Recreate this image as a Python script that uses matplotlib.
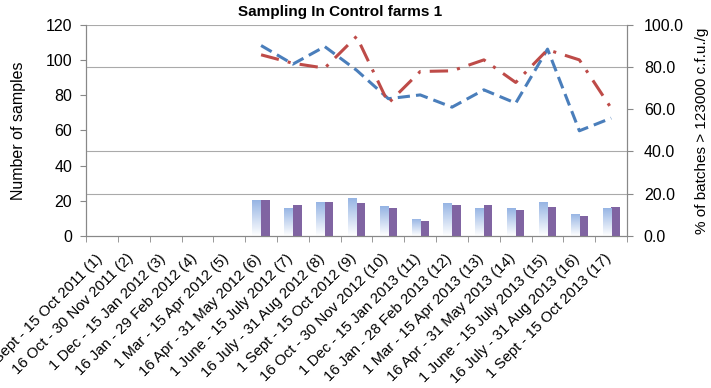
import matplotlib
matplotlib.use("Agg")
import matplotlib.pyplot as plt
import matplotlib.transforms as mtransforms
import numpy as np
from matplotlib.colors import LinearSegmentedColormap

categories = [
    "1 Sept - 15 Oct 2011 (1)", "16 Oct - 30 Nov 2011 (2)", "1 Dec - 15 Jan 2012 (3)",
    "16 Jan - 29 Feb 2012 (4)", "1 Mar - 15 Apr 2012 (5)", "16 Apr - 31 May 2012 (6)",
    "1 June - 15 July 2012 (7)", "16 July - 31 Aug 2012 (8)", "1 Sept - 15 Oct 2012 (9)",
    "16 Oct - 30 Nov 2012 (10)", "1 Dec - 15 Jan 2013 (11)", "16 Jan - 28 Feb 2013 (12)",
    "1 Mar - 15 Apr 2013 (13)", "16 Apr - 31 May 2013 (14)", "1 June - 15 July 2013 (15)",
    "16 July - 31 Aug 2013 (16)", "1 Sept - 15 Oct 2013 (17)",
]
nan = np.nan
samples_a = [nan, nan, nan, nan, nan, 20.5, 16.1, 19.5, 21.7, 17.0, 9.7, 18.9, 16.1, 15.9, 19.5, 12.7, 16.1]
samples_b = [nan, nan, nan, nan, nan, 20.5, 17.7, 19.5, 18.9, 16.1, 8.7, 17.6, 17.6, 15.0, 16.7, 11.6, 16.7]
pct_blue = [nan, nan, nan, nan, nan, 90.2, 81.4, 89.7, 78.5, 65.0, 66.8, 61.0, 69.2, 62.9, 88.5, 49.8, 55.8]
pct_red = [nan, nan, nan, nan, nan, 85.8, 81.8, 79.5, 94.5, 62.9, 77.9, 78.2, 83.4, 72.7, 88.2, 83.4, 60.5]

plt.rcParams["font.family"] = ["Liberation Sans", "DejaVu Sans"]

fig = plt.figure(figsize=(7.11, 3.88), dpi=100, facecolor="white")
ax = fig.add_axes([0.121, 0.392, 0.761, 0.544])
ax2 = ax.twinx()

x = np.arange(len(categories))
w = 0.27
bars_a = ax.bar(x - w / 2, samples_a, width=w, color="#c6d6ef", zorder=2)
bars_b = ax.bar(x + w / 2, samples_b, width=w, color="#8064a2", zorder=2)

# vertical gradient on the light bars
grad = LinearSegmentedColormap.from_list("g", ["#ffffff", "#94b3e3"])
gimg = np.linspace(0, 1, 100).reshape(-1, 1)
for b in bars_a:
    if np.isnan(b.get_height()):
        continue
    x0, y0 = b.get_x(), b.get_y()
    im = ax.imshow(gimg, cmap=grad, origin="lower", aspect="auto",
                   extent=[x0, x0 + b.get_width(), y0, y0 + b.get_height()], zorder=2.1)
    im.set_clip_path(b)

ax.set_xlim(-0.5, len(categories) - 0.5)
ax.set_ylim(0, 120)
ax.set_yticks(range(0, 121, 20))
ax.set_xticks(np.arange(-0.5, len(categories), 1), minor=True)
ax.set_xticks(x)
ax.set_xticklabels(categories, rotation=45, ha="right", rotation_mode="anchor", fontsize=10.8)
ax.tick_params(axis="x", which="major", length=0, pad=14)
ax.tick_params(axis="x", which="minor", length=4, color="#888888")
ax.tick_params(axis="y", length=4, color="#888888", labelsize=11.5, pad=6)
ax.set_ylabel("Number of samples", fontsize=11.5, labelpad=14)

# nudge the rotated labels a little left/up
shift = mtransforms.ScaledTranslation(-7 / 100, 4 / 100, fig.dpi_scale_trans)
for lab in ax.get_xticklabels():
    lab.set_transform(lab.get_transform() + shift)

ax2.plot(x, pct_blue, color="#4a7ebb", lw=2.2, ls=(0, (4, 2)), zorder=3)
ax2.plot(x, pct_red, color="#be4b48", lw=2.2, ls=(0, (6, 3, 1, 3)), zorder=3)
ax2.set_ylim(0, 100)
ax2.set_yticks(range(0, 101, 20))
ax2.set_yticklabels([f"{v:.1f}" for v in range(0, 101, 20)])
ax2.tick_params(axis="y", length=4, color="#888888", labelsize=11.5, pad=8)
ax2.set_ylabel("% of batches > 123000 c.f.u./g", fontsize=11, labelpad=8)

for v in [20, 40, 80, 100]:
    ax2.axhline(v, color="#aaaaaa", lw=0.8, zorder=0)

for a in (ax, ax2):
    a.spines["top"].set_visible(False)
    for s in ("left", "right", "bottom"):
        a.spines[s].set_color("#888888")

ax.set_title("Sampling In Control farms 1", fontsize=11, fontweight="bold", pad=6, x=0.47)

fig.savefig("out.png", dpi=100)
